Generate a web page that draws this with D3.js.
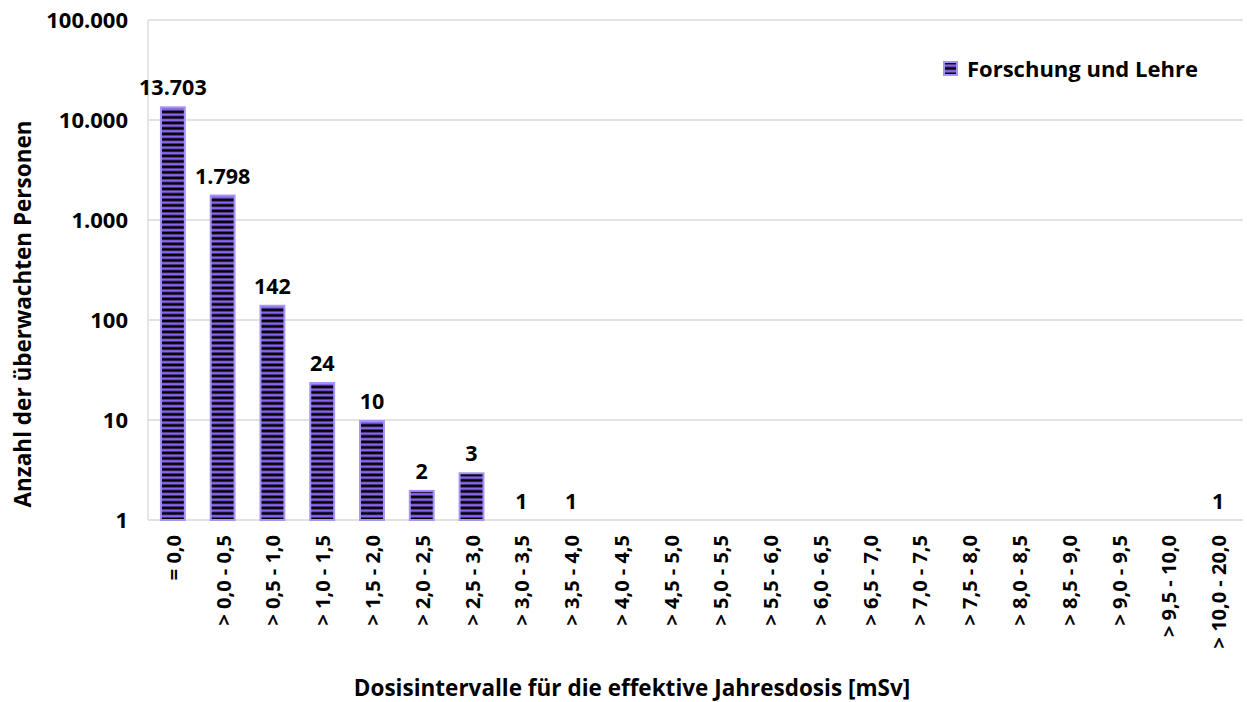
<!DOCTYPE html>
<html><head><meta charset="utf-8">
<script src="https://cdn.jsdelivr.net/npm/d3@7"></script>
<style>body{margin:0;background:#fff}svg{display:block}text{font-family:"Open Sans","Noto Sans",sans-serif;font-weight:bold;fill:#000}</style>
</head><body>
<script>
const categories = ["= 0,0","> 0,0 - 0,5","> 0,5 - 1,0","> 1,0 - 1,5","> 1,5 - 2,0","> 2,0 - 2,5","> 2,5 - 3,0","> 3,0 - 3,5","> 3,5 - 4,0","> 4,0 - 4,5","> 4,5 - 5,0","> 5,0 - 5,5","> 5,5 - 6,0","> 6,0 - 6,5","> 6,5 - 7,0","> 7,0 - 7,5","> 7,5 - 8,0","> 8,0 - 8,5","> 8,5 - 9,0","> 9,0 - 9,5","> 9,5 - 10,0","> 10,0 - 20,0"];
const values = [13703,1798,142,24,10,2,3,1,1,0,0,0,0,0,0,0,0,0,0,0,0,1];
const yTicks = [1,10,100,1000,10000,100000];
const seriesName = "Forschung und Lehre";

const W=1247,H=702;
const m={l:148,r:4,t:20,b:182};
const svg=d3.select("body").append("svg").attr("width",W).attr("height",H);
const defs=svg.append("defs");
const pat=defs.append("pattern").attr("id","stripes").attr("patternUnits","userSpaceOnUse")
 .attr("width",10).attr("height",5.5);
pat.append("rect").attr("width",10).attr("height",5.5).attr("fill","#8a63ee");
pat.append("rect").attr("y",0.5).attr("width",10).attr("height",2.8).attr("fill","#000");

const x=d3.scaleBand().domain(categories).range([m.l,W-m.r]).paddingInner(0.48).paddingOuter(0.24);
const y=d3.scaleLog().domain([1,100000]).range([H-m.b,m.t]);
const fmt=v=>d3.format(",")(v).replace(/,/g,".");

// grid
svg.append("g").selectAll("line").data(yTicks).join("line")
 .attr("x1",m.l).attr("x2",W-m.r).attr("y1",d=>y(d)).attr("y2",d=>y(d))
 .attr("stroke","#d9d9d9").attr("stroke-width",1.3);
svg.append("line").attr("x1",m.l).attr("x2",m.l).attr("y1",m.t).attr("y2",H-m.b).attr("stroke","#d9d9d9").attr("stroke-width",1.3);

// y tick labels
svg.append("g").selectAll("text").data(yTicks).join("text")
 .attr("x",m.l-20).attr("y",d=>y(d)).attr("dy","0.35em").attr("text-anchor","end")
 .style("font-size","22px").text(fmt);

// bars
const data=categories.map((c,i)=>({c,v:values[i]}));
svg.append("g").selectAll("rect").data(data.filter(d=>d.v>1)).join("rect")
 .attr("x",d=>x(d.c)+1).attr("width",x.bandwidth()-2)
 .attr("y",d=>y(d.v)+1).attr("height",d=>y(1)-y(d.v)-1)
 .attr("fill","url(#stripes)").attr("stroke","#a394f5").attr("stroke-width",2);

// value labels
svg.append("g").selectAll("text").data(data.filter(d=>d.v>0)).join("text")
 .attr("x",d=>x(d.c)+x.bandwidth()/2).attr("y",d=>y(d.v)-11)
 .attr("text-anchor","middle").style("font-size","21.5px").text(d=>fmt(d.v));

// x labels
svg.append("g").selectAll("text").data(categories).join("text")
 .attr("transform",d=>`translate(${x(d)+x.bandwidth()/2+1},535) rotate(-90)`)
 .attr("dy","0.35em").attr("text-anchor","end").style("font-size","20px").text(d=>d);

// axis titles
svg.append("text").attr("transform","translate(23,314) rotate(-90)").attr("text-anchor","middle")
 .attr("dy","0.35em").style("font-size","22.5px").text("Anzahl der überwachten Personen");
svg.append("text").attr("x",632).attr("y",696).attr("text-anchor","middle")
 .style("font-size","22.5px").text("Dosisintervalle für die effektive Jahresdosis [mSv]");

// legend
const lg=svg.append("g").attr("transform","translate(943,61)");
lg.append("rect").attr("x",1).attr("y",1).attr("width",13).attr("height",13).attr("fill","url(#stripes)").attr("stroke","#a394f5").attr("stroke-width",2);
lg.append("text").attr("x",24).attr("y",16).style("font-size","22px").text(seriesName);
</script>
</body></html>
